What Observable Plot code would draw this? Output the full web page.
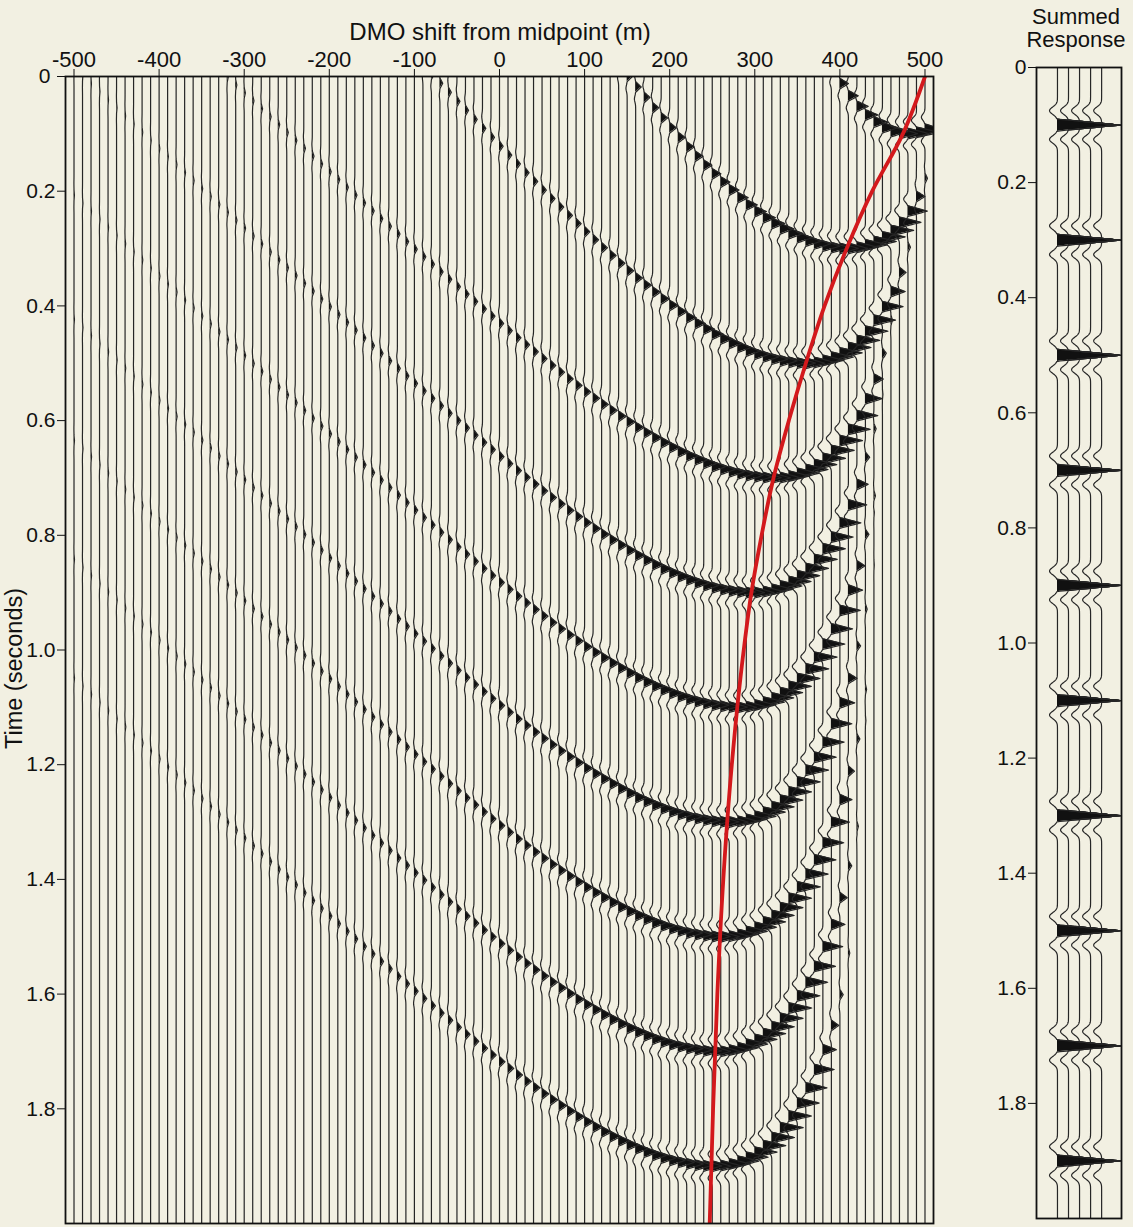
<!DOCTYPE html>
<html><head><meta charset="utf-8">
<script src="https://cdn.jsdelivr.net/npm/d3@7"></script>
<script src="https://cdn.jsdelivr.net/npm/@observablehq/plot@0.6"></script>
<style>
html,body{margin:0;padding:0;background:#f2f0e2;}
#wrap{position:relative;width:1133px;height:1227px;overflow:hidden;font-family:"Liberation Sans",Arial,Helvetica,sans-serif;color:#111;}
#main{position:absolute;left:0;top:0;}
#sum{position:absolute;left:990px;top:0;}
.t{position:absolute;white-space:nowrap;text-align:center;}
</style></head><body>
<div id="wrap">
  <div id="main"></div>
  <div id="sum"></div>
  <div class="t" style="left:300px;width:400px;top:20px;font-size:24px;line-height:24px;">DMO shift from midpoint (m)</div>
  <div class="t" style="left:-96px;width:220px;top:656px;font-size:23.5px;line-height:25px;transform:rotate(-90deg);">Time (seconds)</div>
  <div class="t" style="left:1016px;width:120px;top:6px;font-size:22px;line-height:22px;">Summed</div>
  <div class="t" style="left:1016px;width:120px;top:29px;font-size:22px;line-height:22px;">Response</div>
</div>
<script>
// ---------------- data ----------------
const xTicks = [-500, -400, -300, -200, -100, 0, 100, 200, 300, 400, 500];
const yTicks = [0, 0.2, 0.4, 0.6, 0.8, 1.0, 1.2, 1.4, 1.6, 1.8];
const traceSpacing = 10;           // metres between traces
const traceFirst = -500, traceLast = 500;

// event curves: [DMO shift (m), time (s), relative amplitude]
const ev1 = [[375,-0.048,0.3],[425,0.06,0.7],[475,0.10,1.1],[483,0.099,1.3],[491,0.097,1.35],[497,0.094,1.2],[502,0.09,0.8],[505,0.086,0.5],[507,0.08,0.3]];
const ev2 = [[105,-0.087,0.26],[155,0.009,0.32],[205,0.098,0.4],[255,0.177,0.52],[305,0.241,0.7],[355,0.284,0.9],[405,0.30,1.1],[431,0.293,1.3],[458,0.271,1.35],[479,0.237,1.2],[494,0.196,0.25],[505,0.149,0.06],[510,0.08,0.02]];
const ev3 = [[-92,-0.023,0.15],[-42,0.056,0.18],[8,0.134,0.22],[58,0.210,0.26],[108,0.282,0.32],[158,0.349,0.4],[208,0.408,0.52],[258,0.456,0.7],[308,0.488,0.9],[358,0.5,1.1],[392,0.488,1.3],[426,0.451,1.35],[452,0.396,1.2],[473,0.328,0.25],[486,0.249,0.06],[493,0.136,0.02]];
const ev4 = [[-328,-0.01,0.06],[-278,0.059,0.08],[-228,0.128,0.1],[-178,0.196,0.12],[-128,0.264,0.15],[-78,0.330,0.18],[-28,0.395,0.22],[22,0.458,0.26],[72,0.518,0.32],[122,0.574,0.4],[172,0.623,0.52],[222,0.663,0.7],[272,0.69,0.9],[322,0.7,1.1],[359,0.686,1.3],[396,0.642,1.35],[425,0.577,1.2],[447,0.496,0.25],[462,0.403,0.06],[469,0.268,0.02]];
const ev5 = [[-504,-0.021,0.02],[-454,0.049,0.03],[-404,0.12,0.04],[-354,0.19,0.06],[-304,0.259,0.08],[-254,0.328,0.1],[-204,0.396,0.12],[-154,0.464,0.15],[-104,0.53,0.18],[-54,0.595,0.22],[-4,0.658,0.26],[46,0.718,0.32],[96,0.774,0.4],[146,0.823,0.52],[196,0.863,0.7],[246,0.89,0.9],[296,0.9,1.1],[336,0.884,1.3],[375,0.833,1.35],[407,0.757,1.2],[430,0.664,0.25],[446,0.557,0.06],[454,0.401,0.02]];
const ev6 = [[-520,0.179,0.02],[-470,0.249,0.03],[-420,0.32,0.04],[-370,0.39,0.06],[-320,0.459,0.08],[-270,0.528,0.1],[-220,0.596,0.12],[-170,0.664,0.15],[-120,0.73,0.18],[-70,0.795,0.22],[-20,0.858,0.26],[30,0.918,0.32],[80,0.974,0.4],[130,1.023,0.52],[180,1.063,0.7],[230,1.09,0.9],[280,1.1,1.1],[323,1.081,1.3],[366,1.021,1.35],[400,0.931,1.2],[426,0.82,0.25],[443,0.693,0.06],[452,0.508,0.02]];
const ev7 = [[-532,0.379,0.02],[-482,0.449,0.03],[-432,0.52,0.04],[-382,0.59,0.06],[-332,0.659,0.08],[-282,0.728,0.1],[-232,0.796,0.12],[-182,0.864,0.15],[-132,0.93,0.18],[-82,0.995,0.22],[-32,1.058,0.26],[18,1.118,0.32],[68,1.174,0.4],[118,1.223,0.52],[168,1.263,0.7],[218,1.29,0.9],[268,1.3,1.1],[312,1.281,1.3],[356,1.218,1.35],[391,1.125,1.2],[417,1.01,0.25],[434,0.879,0.06],[443,0.688,0.02]];
const ev8 = [[-540,0.579,0.02],[-490,0.649,0.03],[-440,0.72,0.04],[-390,0.79,0.06],[-340,0.859,0.08],[-290,0.928,0.1],[-240,0.996,0.12],[-190,1.064,0.15],[-140,1.13,0.18],[-90,1.195,0.22],[-40,1.258,0.26],[10,1.318,0.32],[60,1.374,0.4],[110,1.423,0.52],[160,1.463,0.7],[210,1.49,0.9],[260,1.5,1.1],[305,1.479,1.3],[350,1.413,1.35],[386,1.315,1.2],[413,1.193,0.25],[431,1.054,0.06],[440,0.852,0.02]];
const ev9 = [[-545,0.779,0.02],[-495,0.849,0.03],[-445,0.92,0.04],[-395,0.99,0.06],[-345,1.059,0.08],[-295,1.128,0.1],[-245,1.196,0.12],[-195,1.264,0.15],[-145,1.33,0.18],[-95,1.395,0.22],[-45,1.458,0.26],[5,1.518,0.32],[55,1.574,0.4],[105,1.623,0.52],[155,1.663,0.7],[205,1.69,0.9],[255,1.7,1.1],[299,1.68,1.3],[344,1.616,1.35],[379,1.521,1.2],[405,1.403,0.25],[423,1.269,0.06],[432,1.073,0.02]];
const ev10 = [[-550,0.979,0.02],[-500,1.049,0.03],[-450,1.12,0.04],[-400,1.19,0.06],[-350,1.259,0.08],[-300,1.328,0.1],[-250,1.396,0.12],[-200,1.464,0.15],[-150,1.53,0.18],[-100,1.595,0.22],[-50,1.658,0.26],[0,1.718,0.32],[50,1.774,0.4],[100,1.823,0.52],[150,1.863,0.7],[200,1.89,0.9],[250,1.9,1.1],[293,1.882,1.3],[335,1.823,1.35],[369,1.735,1.2],[395,1.627,0.25],[412,1.502,0.06],[420,1.322,0.02]];

// red curve: stationary (apex) position vs time
const redT = [0, 0.1, 0.2, 0.3, 0.4, 0.5, 0.6, 0.7, 0.8, 0.9, 1.0, 1.2, 1.4, 1.6, 1.8, 2.0];
const redX = [500, 474, 438, 408, 382, 360, 340, 322, 308, 296, 287, 273, 263, 256, 251, 247];

// summed response
const summedTraces = [1, 2, 3, 4, 5];
const summedTimes = [0.1, 0.3, 0.5, 0.7, 0.9, 1.1, 1.3, 1.5, 1.7, 1.9];
const summedAmps  = [1, 1, 1, 1, 1, 1, 1, 1, 1, 1];
const summedTip = 6.7;   // where the filled peaks meet (panel units)

// ---------------- helpers ----------------
function monotone(xs, ys) {
  const n = xs.length, h = [], s = [], m = new Array(n).fill(0);
  for (let i = 0; i < n - 1; i++) { h[i] = xs[i+1] - xs[i]; s[i] = (ys[i+1] - ys[i]) / h[i]; }
  for (let i = 1; i < n - 1; i++) {
    const s0 = s[i-1], s1 = s[i], h0 = h[i-1], h1 = h[i];
    const p = (s0 * h1 + s1 * h0) / (h0 + h1);
    m[i] = (Math.sign(s0) + Math.sign(s1)) * Math.min(Math.abs(s0), Math.abs(s1), 0.5 * Math.abs(p)) || 0;
  }
  m[0] = (3 * s[0] - m[1]) / 2;
  m[n-1] = (3 * s[n-2] - m[n-2]) / 2;
  return x => {
    let i = d3.bisectRight(xs, x) - 1; i = Math.max(0, Math.min(n - 2, i));
    const t = (x - xs[i]) / h[i], t2 = t * t, t3 = t2 * t;
    return (2*t3 - 3*t2 + 1) * ys[i] + (t3 - 2*t2 + t) * h[i] * m[i] + (-2*t3 + 3*t2) * ys[i+1] + (t3 - t2) * h[i] * m[i+1];
  };
}
const tent = (tau, hw) => Math.max(0, 1 - Math.abs(tau) / hw);
const sideLobe = (tau, pos, w) => Math.exp(-Math.pow((Math.abs(tau) - pos) / w, 2));

function traceRows(id, base, hitTimes, deflect, tMax) {
  let ts = d3.range(0, tMax + 1e-9, 0.01);
  for (const th of hitTimes) for (let k = -45; k <= 45; k++) {
    const t = th + k * 0.001;
    if (t >= 0 && t <= tMax) ts.push(t);
  }
  ts.sort((a, b) => a - b);
  const rows = []; let last = -1;
  for (const t of ts) {
    if (t - last < 1e-6) continue; last = t;
    const v = deflect(t);
    rows.push({trace: id, t, base, xw: base + v, xp: base + Math.max(0, v)});
  }
  return rows;
}

// ---------------- main panel ----------------
const events = [ev1, ev2, ev3, ev4, ev5, ev6, ev7, ev8, ev9, ev10].map(ev => {
  const xs = ev.map(d => d[0]), ts = ev.map(d => d[1]), as = ev.map(d => d[2]);
  return {x0: xs[0], x1: xs[xs.length - 1], ft: monotone(xs, ts), fa: d3.scaleLinear().domain(xs).range(as).clamp(true)};
});
const mainGain = 20;
const mainWave = tau => tent(tau, 0.0095) - 0.22 * sideLobe(tau, 0.021, 0.0075);
const traceX = d3.range(traceFirst, traceLast + 1, traceSpacing);
const mainRows = [];
traceX.forEach((bx, i) => {
  const hits = [];
  for (const e of events) {
    if (bx < e.x0 || bx > e.x1) continue;
    const t = e.ft(bx);
    if (t > -0.05 && t < 2.05) hits.push({t, a: e.fa(bx)});
  }
  const deflect = t => {
    let v = 0;
    for (const hh of hits) { const d = t - hh.t; if (Math.abs(d) < 0.06) v += hh.a * mainWave(d); }
    return mainGain * v;
  };
  mainRows.push(...traceRows(i, bx, hits.map(hh => hh.t), deflect, 2.0));
});
const redData = redT.map((t, i) => ({t, x: redX[i]}));

const fmtY = d => d === 0 ? "0" : d.toFixed(1);
const fmtX = d => d < 0 ? "-" + Math.abs(d) : String(d);
const font = "'Liberation Sans', Arial, Helvetica, sans-serif";

const yAxes = () => [
  Plot.axisY(yTicks.filter(d => d > 0), {anchor: "left", tickFormat: fmtY, tickSize: 8, tickPadding: 2, fontSize: 21, label: null}),
  Plot.axisY(yTicks.filter(d => d === 0), {anchor: "left", tickFormat: fmtY, tickSize: 8, tickPadding: 7, fontSize: 21, label: null})
];

const mainPlot = Plot.plot({
  width: 960, height: 1227,
  marginLeft: 65, marginRight: 27, marginTop: 76, marginBottom: 4,
  style: {background: "transparent", fontSize: "22px", fontFamily: font, color: "#111", overflow: "visible"},
  x: {domain: [-510, 510]},
  y: {domain: [0, 2.0], reverse: true},
  marks: [
    Plot.areaX(mainRows, {x1: "base", x2: "xp", y: "t", z: "trace", fill: "#111", clip: true}),
    Plot.line(mainRows, {x: "xw", y: "t", z: "trace", stroke: "#262626", strokeWidth: 1.2, clip: true}),
    Plot.line(redData, {x: "x", y: "t", stroke: "#d3191c", strokeWidth: 3.8, curve: "monotone-y", clip: true}),
    Plot.frame({stroke: "#111", strokeWidth: 1.8}),
    Plot.axisX(xTicks, {anchor: "top", tickFormat: fmtX, tickSize: 8, tickPadding: 2, fontSize: 22, label: null}),
    ...yAxes()
  ]
});
document.getElementById("main").appendChild(mainPlot);

// ---------------- summed response ----------------
const sumRows = [];
summedTraces.forEach(bx => {
  const reach = summedTip - bx;                       // peak deflection for this trace
  const hw = 0.0105 * reach / (summedTip - summedTraces[0]);
  const deflect = t => {
    let v = 0;
    summedTimes.forEach((te, i) => {
      const d = t - te;
      if (Math.abs(d) < 0.07) v += summedAmps[i] * (reach * tent(d, hw) - 0.72 * sideLobe(d, 0.025, 0.009));
    });
    return v;
  };
  sumRows.push(...traceRows(bx, bx, summedTimes, deflect, 2.0));
});
const sumPlot = Plot.plot({
  width: 143, height: 1227,
  marginLeft: 46, marginRight: 12, marginTop: 67, marginBottom: 9,
  style: {background: "transparent", fontSize: "21px", fontFamily: font, color: "#111", overflow: "visible"},
  x: {domain: [-0.9, 6.8], axis: null},
  y: {domain: [0, 2.0], reverse: true},
  marks: [
    Plot.areaX(sumRows, {x1: "base", x2: "xp", y: "t", z: "trace", fill: "#111", clip: true}),
    Plot.line(sumRows, {x: "xw", y: "t", z: "trace", stroke: "#262626", strokeWidth: 1.2, clip: true}),
    Plot.frame({stroke: "#111", strokeWidth: 1.8}),
    Plot.axisY(yTicks, {anchor: "left", tickFormat: fmtY, tickSize: 8, tickPadding: 2, fontSize: 21, label: null})
  ]
});
document.getElementById("sum").appendChild(sumPlot);
</script>
</body></html>
